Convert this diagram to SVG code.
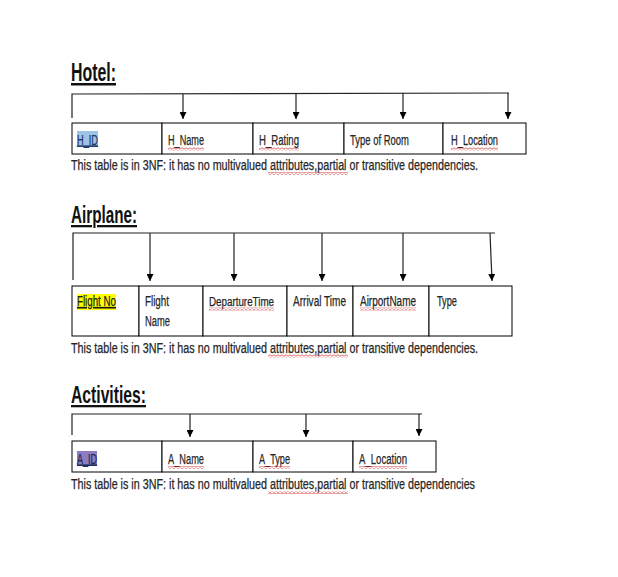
<svg xmlns="http://www.w3.org/2000/svg" width="618" height="577" viewBox="0 0 618 577">
<style>
  .t { font-family: "Liberation Sans", Arial, sans-serif; font-size: 14px; fill: #262626; stroke: #262626; stroke-width: 0.25; }
  .title { font-family: "Liberation Sans", Arial, sans-serif; font-weight: bold; fill: #111; text-decoration: underline; }
  .cell { fill: #ffffff; stroke: #000; stroke-width: 1; }
  .conn { stroke: #222; stroke-width: 1.2; fill: none; }
  .key { text-decoration: underline; }
</style>
<defs>
  <marker id="arr" viewBox="0 0 10 10" refX="10" refY="5" markerWidth="7" markerHeight="7" markerUnits="userSpaceOnUse" orient="auto">
    <path d="M0,0 L10,5 L0,10 Z" fill="#000"/>
  </marker>
  <pattern id="wave" x="0" y="0" width="4" height="3" patternUnits="userSpaceOnUse">
    <path d="M0,2.6 L2,0.4 L4,2.6" stroke="#d02828" stroke-width="0.9" fill="none"/>
  </pattern>
</defs>
<rect width="618" height="577" fill="#ffffff"/>

<!-- Hotel -->
<g id="hotel">
  <text class="title" x="71" y="81" font-size="25" textLength="45" lengthAdjust="spacingAndGlyphs">Hotel:</text>
  <rect class="cell" x="72" y="123" width="90" height="31"/>
  <rect class="cell" x="162" y="123" width="91" height="31"/>
  <rect class="cell" x="253" y="123" width="91" height="31"/>
  <rect class="cell" x="344" y="123" width="99" height="31"/>
  <rect class="cell" x="443" y="123" width="83" height="31"/>
  <rect x="77" y="131" width="21" height="16" fill="#9dc3e6"/>
  <text class="t key" x="77" y="144.5" style="fill:#1f3864;stroke:#1f3864" textLength="21" lengthAdjust="spacingAndGlyphs">H_ID</text>
  <text class="t" x="168" y="144.5" textLength="36" lengthAdjust="spacingAndGlyphs">H_Name</text>
  <text class="t" x="259" y="144.5" textLength="40" lengthAdjust="spacingAndGlyphs">H_Rating</text>
  <text class="t" x="350" y="144.5" textLength="59" lengthAdjust="spacingAndGlyphs">Type of Room</text>
  <text class="t" x="451" y="144.5" textLength="47" lengthAdjust="spacingAndGlyphs">H_Location</text>
  <rect x="168" y="147.5" width="36" height="3" fill="url(#wave)"/>
  <rect x="259" y="147.5" width="40" height="3" fill="url(#wave)"/>
  <rect x="451" y="147.5" width="47" height="3" fill="url(#wave)"/>
  <text class="t" x="71" y="170" textLength="407" lengthAdjust="spacingAndGlyphs">This table is in 3NF: it has no multivalued attributes,partial or transitive dependencies.</text>
  <rect x="268" y="172" width="80" height="3" fill="url(#wave)"/>
</g>

<!-- Airplane -->
<g id="airplane">
  <text class="title" x="71" y="223" font-size="23" textLength="66" lengthAdjust="spacingAndGlyphs">Airplane:</text>
  <rect class="cell" x="72" y="286" width="67" height="50"/>
  <rect class="cell" x="139" y="286" width="64" height="50"/>
  <rect class="cell" x="203" y="286" width="84" height="50"/>
  <rect class="cell" x="287" y="286" width="66" height="50"/>
  <rect class="cell" x="353" y="286" width="76" height="50"/>
  <rect class="cell" x="429" y="286" width="83" height="50"/>
  <rect x="77" y="294" width="39" height="16" fill="#ffff00"/>
  <text class="t key" x="77" y="306" style="fill:#1a1a1a" textLength="39" lengthAdjust="spacingAndGlyphs">Flight No</text>
  <text class="t" x="145" y="306" textLength="24" lengthAdjust="spacingAndGlyphs">Flight</text>
  <text class="t" x="145" y="325.5" textLength="25" lengthAdjust="spacingAndGlyphs">Name</text>
  <text class="t" x="209" y="306" font-size="12.5" style="font-size:12.5px" textLength="65" lengthAdjust="spacingAndGlyphs">DepartureTime</text>
  <text class="t" x="293" y="306" textLength="53" lengthAdjust="spacingAndGlyphs">Arrival Time</text>
  <text class="t" x="360" y="306" textLength="56" lengthAdjust="spacingAndGlyphs">AirportName</text>
  <text class="t" x="437" y="306" textLength="20" lengthAdjust="spacingAndGlyphs">Type</text>
  <rect x="209" y="307.5" width="65" height="3" fill="url(#wave)"/>
  <rect x="360" y="307.5" width="56" height="3" fill="url(#wave)"/>
  <text class="t" x="71" y="352.5" textLength="407" lengthAdjust="spacingAndGlyphs">This table is in 3NF: it has no multivalued attributes,partial or transitive dependencies.</text>
  <rect x="268" y="354.5" width="80" height="3" fill="url(#wave)"/>
</g>

<!-- Activities -->
<g id="activities">
  <text class="title" x="71" y="403" font-size="23" textLength="75" lengthAdjust="spacingAndGlyphs">Activities:</text>
  <rect class="cell" x="72" y="441" width="90" height="31"/>
  <rect class="cell" x="162" y="441" width="91" height="31"/>
  <rect class="cell" x="253" y="441" width="100" height="31"/>
  <rect class="cell" x="353" y="441" width="83" height="31"/>
  <rect x="77" y="451" width="20" height="15" fill="#8e7cc3"/>
  <text class="t key" x="77" y="463.5" style="fill:#1f2a55;stroke:#1f2a55" textLength="20" lengthAdjust="spacingAndGlyphs">A_ID</text>
  <text class="t" x="168" y="463.5" textLength="36" lengthAdjust="spacingAndGlyphs">A_Name</text>
  <text class="t" x="259" y="463.5" textLength="31" lengthAdjust="spacingAndGlyphs">A_Type</text>
  <text class="t" x="359" y="463.5" textLength="48" lengthAdjust="spacingAndGlyphs">A_Location</text>
  <rect x="168" y="466" width="36" height="3" fill="url(#wave)"/>
  <rect x="259" y="466" width="31" height="3" fill="url(#wave)"/>
  <rect x="359" y="466" width="48" height="3" fill="url(#wave)"/>
  <text class="t" x="71" y="489" textLength="404" lengthAdjust="spacingAndGlyphs">This table is in 3NF: it has no multivalued attributes,partial or transitive dependencies</text>
  <rect x="268" y="491" width="80" height="3" fill="url(#wave)"/>
</g>

<!-- Connectors -->
<g id="connectors">
  <!-- Hotel -->
  <path class="conn" d="M72,118 L72,94 L509,93"/>
  <line class="conn" x1="183" y1="94" x2="183" y2="119" marker-end="url(#arr)"/>
  <line class="conn" x1="296" y1="94" x2="296" y2="119" marker-end="url(#arr)"/>
  <line class="conn" x1="403" y1="93" x2="403" y2="119" marker-end="url(#arr)"/>
  <line class="conn" x1="508" y1="93" x2="508" y2="119" marker-end="url(#arr)"/>
  <!-- Airplane -->
  <path class="conn" d="M73,280 L73,233 L495,233"/>
  <line class="conn" x1="150" y1="233" x2="150" y2="281" marker-end="url(#arr)"/>
  <line class="conn" x1="234" y1="233" x2="234" y2="281" marker-end="url(#arr)"/>
  <line class="conn" x1="322" y1="233" x2="322" y2="281" marker-end="url(#arr)"/>
  <line class="conn" x1="403" y1="233" x2="403" y2="281" marker-end="url(#arr)"/>
  <line class="conn" x1="490" y1="233" x2="492" y2="281" marker-end="url(#arr)"/>
  <!-- Activities -->
  <path class="conn" d="M72,435 L72,414 L422,414"/>
  <line class="conn" x1="190" y1="414" x2="190" y2="437" marker-end="url(#arr)"/>
  <line class="conn" x1="306" y1="414" x2="306" y2="437" marker-end="url(#arr)"/>
  <line class="conn" x1="419" y1="414" x2="419" y2="436" marker-end="url(#arr)"/>
</g>
</svg>
